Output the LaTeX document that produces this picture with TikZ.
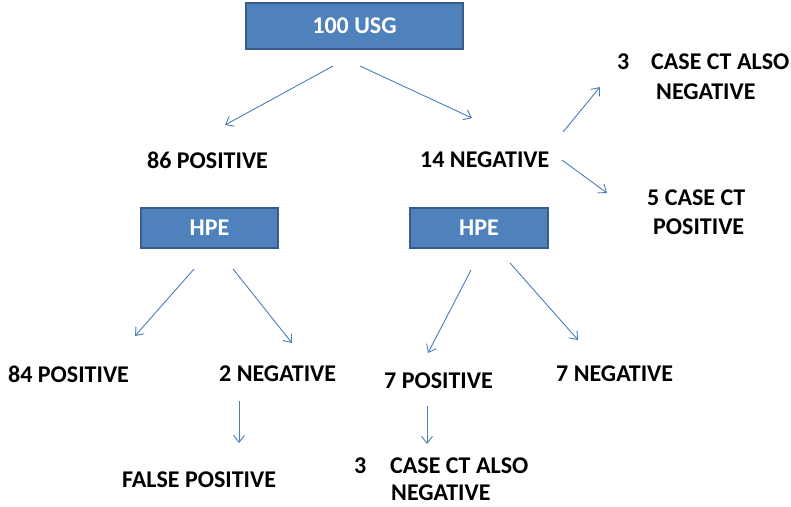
\documentclass[tikz,border=0pt]{standalone}
\usepackage{fontspec}
\setmainfont{Carlito}
\usetikzlibrary{arrows.meta}
\definecolor{boxfill}{HTML}{4F81BD}
\definecolor{boxline}{HTML}{385D8A}
\definecolor{arr}{HTML}{4A7EBB}
\begin{document}
\begin{tikzpicture}[x=1pt,y=-1pt,
  bx/.style={draw=boxline,line width=1.5pt,fill=boxfill,text=white,font=\fontsize{24}{27}\selectfont\bfseries,inner sep=0pt},
  lbl/.style={font=\fontsize{24}{29}\selectfont\bfseries,inner sep=0pt,anchor=west},
  ar/.style={draw=arr,line width=0.9pt,-{Straight Barb[length=7pt,width=11pt]}}]
\useasboundingbox (0,0) rectangle (791,506);
% boxes
\node[bx,minimum width=217pt,minimum height=46pt] (usg) at (354.5,26) {100 USG};
\node[bx,minimum width=137pt,minimum height=40pt] (hpe1) at (209.5,228) {HPE};
\node[bx,minimum width=138pt,minimum height=40pt] (hpe2) at (479,228) {HPE};
% labels
\node[lbl] (pos86) at (147,160) {86 POSITIVE};
\node[lbl] (neg14) at (420,160) {14 NEGATIVE};
\node[lbl] (ct3a) at (617,62) {3};
\node[lbl] (ct3b) at (651,62) {CASE CT ALSO};
\node[lbl] (ct3c) at (656,92) {NEGATIVE};
\node[lbl] (ct5a) at (647,198) {5 CASE CT};
\node[lbl] (ct5b) at (653,227) {POSITIVE};
\node[lbl] (pos84) at (8,374) {84 POSITIVE};
\node[lbl] (neg2) at (219,374) {2 NEGATIVE};
\node[lbl] (pos7) at (384,381) {7 POSITIVE};
\node[lbl] (neg7) at (556,374) {7 NEGATIVE};
\node[lbl] (fp) at (122,480) {FALSE POSITIVE};
\node[lbl] (ct3d) at (354,466) {3};
\node[lbl] (ct3e) at (390,466) {CASE CT ALSO};
\node[lbl] (ct3f) at (391,493) {NEGATIVE};
% arrow end points
\coordinate (a1s) at (333,66);  \coordinate (a1e) at (225,125);
\coordinate (a2s) at (360,66);  \coordinate (a2e) at (472,118);
\coordinate (a3s) at (563,132); \coordinate (a3e) at (600,87);
\coordinate (a4s) at (562,160); \coordinate (a4e) at (607,193);
\coordinate (a5s) at (194,269); \coordinate (a5e) at (135,336);
\coordinate (a6s) at (233,269); \coordinate (a6e) at (292,343);
\coordinate (a7s) at (471,270); \coordinate (a7e) at (428,353);
\coordinate (a8s) at (510,263); \coordinate (a8e) at (578,340);
\coordinate (a9s) at (239,401); \coordinate (a9e) at (239,443);
\coordinate (a10s) at (427,406); \coordinate (a10e) at (427,444);
\foreach \i in {1,...,10} { \draw[ar] (a\i s) -- (a\i e); }
\end{tikzpicture}
\end{document}
